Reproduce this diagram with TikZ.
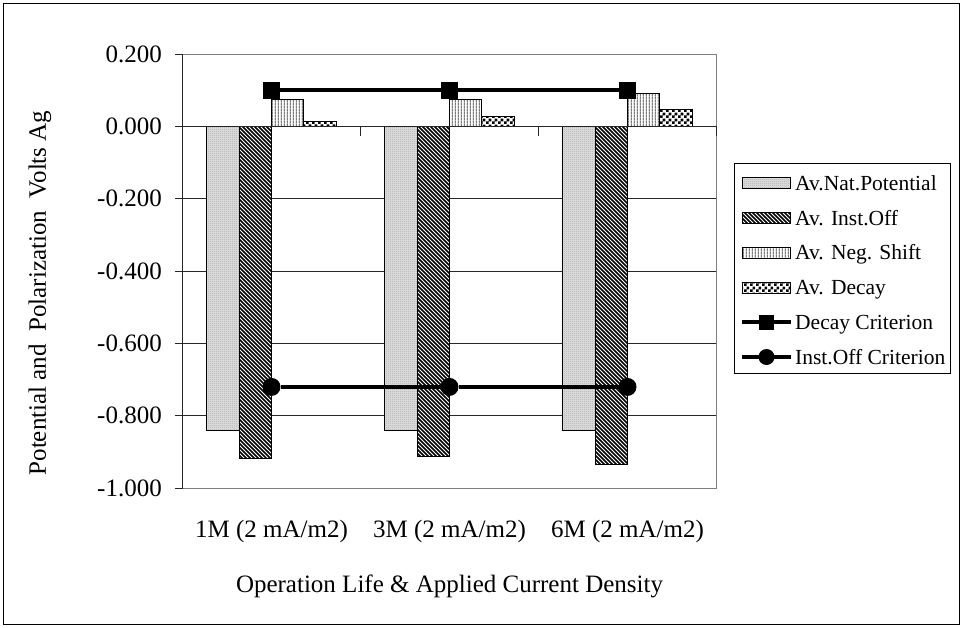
\documentclass[tikz,border=0pt]{standalone}
\usepackage{fontspec}
\setmainfont{Liberation Serif}
\usetikzlibrary{patterns}

\pgfdeclarepatternformonly{finechk}{\pgfqpoint{0pt}{0pt}}{\pgfqpoint{2pt}{2pt}}{\pgfqpoint{2pt}{2pt}}{%
  \pgfpathrectangle{\pgfqpoint{0pt}{0pt}}{\pgfqpoint{1pt}{1pt}}%
  \pgfpathrectangle{\pgfqpoint{1pt}{1pt}}{\pgfqpoint{1pt}{1pt}}%
  \pgfusepath{fill}}
\pgfdeclarepatternformonly{diagstripe}{\pgfqpoint{-1pt}{-1pt}}{\pgfqpoint{5pt}{5pt}}{\pgfqpoint{4pt}{4pt}}{%
  \pgfsetlinewidth{1.6pt}%
  \pgfpathmoveto{\pgfqpoint{-0.1pt}{4.1pt}}\pgfpathlineto{\pgfqpoint{4.1pt}{-0.1pt}}%
  \pgfusepath{stroke}}
\pgfdeclarepatternformonly{vstripe}{\pgfqpoint{0pt}{0pt}}{\pgfqpoint{3.2pt}{3.2pt}}{\pgfqpoint{3.2pt}{3.2pt}}{%
  \pgfpathrectangle{\pgfqpoint{1.2pt}{0pt}}{\pgfqpoint{0.8pt}{3.2pt}}%
  \pgfusepath{fill}}
\pgfdeclarepatternformonly{bigchk}{\pgfqpoint{0pt}{0pt}}{\pgfqpoint{6pt}{6pt}}{\pgfqpoint{6pt}{6pt}}{%
  \pgfpathrectangle{\pgfqpoint{0pt}{0pt}}{\pgfqpoint{3pt}{3pt}}%
  \pgfpathrectangle{\pgfqpoint{3pt}{3pt}}{\pgfqpoint{3pt}{3pt}}%
  \pgfusepath{fill}}

\begin{document}
\begin{tikzpicture}[x=1pt,y=-1pt,
  natbar/.style={draw=black, line width=1pt, preaction={fill=gray!25}, pattern=finechk, pattern color=gray!65},
  instbar/.style={draw=black, line width=1pt, preaction={fill=white}, pattern=diagstripe, pattern color=black},
  negbar/.style={draw=black, line width=1pt, preaction={fill=white}, pattern=vstripe, pattern color=black!80},
  decaybar/.style={draw=black, line width=1pt, preaction={fill=white}, pattern=bigchk, pattern color=black},
  gridline/.style={draw=black!85, line width=0.9pt},
  plotborder/.style={draw=gray, line width=1.2pt},
  axisline/.style={draw=black!85, line width=1.3pt},
  critline/.style={draw=black, line width=4pt},
  sqmark/.style={draw=none, fill=black, minimum size=17.5pt, inner sep=0pt, outer sep=0pt},
  cimark/.style={circle, draw=none, fill=black, minimum size=18pt, inner sep=0pt, outer sep=0pt},
  sqmarkl/.style={sqmark, minimum size=15.5pt},
  cimarkl/.style={cimark, minimum size=16pt},
  axtext/.style={font=\fontsize{25}{29}\selectfont, inner sep=0pt},
  legtext/.style={font=\fontsize{21.5}{25}\selectfont, inner sep=0pt, anchor=base west}
]
\useasboundingbox (0,0) rectangle (963,628);
\draw[black, line width=1pt] (3.5,3.5) rectangle (959.5,624.5);

\begin{scope}[shift={(0,126.5)}, y=361.7pt]
  % gridlines and plot border
  \foreach \v in {-0.2,-0.4,-0.6,-0.8} \draw[gridline] (182.5,\v) -- (716.5,\v);
  \draw[plotborder] (182.5,-1) rectangle (716.5,0.2);
  % bars
  \foreach \i/\a/\b/\c/\d in {0/-0.840/-0.918/0.076/0.015, 1/-0.840/-0.913/0.074/0.028, 2/-0.840/-0.934/0.092/0.048} {
    \pgfmathsetmacro\L{206.77+178*\i}
    \draw[natbar] (\L,0) rectangle ++(32.36,\a);
    \draw[instbar] ({\L+32.36},0) rectangle ++(32.36,\b);
    \draw[negbar] ({\L+64.72},0) rectangle ++(32.36,\c);
    \draw[decaybar] ({\L+97.08},0) rectangle ++(32.36,\d);
  }
  % axes
  \draw[axisline] (182.5,0.2) -- (182.5,-1);
  \draw[axisline] (182.5,0) -- (716.5,0);
  \foreach \x in {360.5,538.5,716.5} \draw[black!85, line width=1pt] (\x,0) -- (\x,-0.025);
  \foreach \v/\t [count=\n] in {0.2/0.200, 0/0.000, -0.2/-0.200, -0.4/-0.400, -0.6/-0.600, -0.8/-0.800, -1/-1.000} {
    \draw[black!85, line width=1pt] (175,\v) -- (182.5,\v);
    \node[axtext, anchor=east] (yl\n) at (162,\v) {\t};
  }
  % criteria
  \node[sqmark] (d0) at (271.5,0.1) {};
  \node[sqmark] (d1) at (449.5,0.1) {};
  \node[sqmark] (d2) at (627.5,0.1) {};
  \draw[critline] (d0) -- (d1) -- (d2);
  \node[cimark] (o0) at (271.5,-0.72) {};
  \node[cimark] (o1) at (449.5,-0.72) {};
  \node[cimark] (o2) at (627.5,-0.72) {};
  \draw[critline] (o0) -- (o1) -- (o2);
\end{scope}

% category labels
\node[axtext, anchor=base] (c0) at (271.5,537.3) {1M (2 mA/m2)};
\node[axtext, anchor=base] (c1) at (449.5,537.3) {3M (2 mA/m2)};
\node[axtext, anchor=base] (c2) at (627.5,537.3) {6M (2 mA/m2)};
\node[axtext, anchor=base] (xtitle) at (449.5,592.7) {Operation Life \& Applied Current Density};
\node[axtext, rotate=90] (ytitle) at (40,293) {Potential and\ \ Polarization\ \ Volts Ag};

% legend
\draw[black, line width=1pt] (734.3,163.3) rectangle (950,373.3);
\draw[natbar] (742,178) rectangle (790,189);
\node[legtext] (t1) at (795,190.5) {Av.Nat.Potential};
\draw[instbar] (742,212.7) rectangle (790,223.7);
\node[legtext] (t2) at (795,225.2) {Av. Inst.Off};
\draw[negbar] (742,247.4) rectangle (790,258.4);
\node[legtext] (t3) at (795,259.9) {Av. Neg. Shift};
\draw[decaybar] (742,282.1) rectangle (790,293.1);
\node[legtext] (t4) at (795,294.6) {Av. Decay};
\coordinate (la5) at (742,322.3);
\coordinate (lb5) at (791,322.3);
\draw[critline] (la5) -- (lb5);
\node[sqmarkl] (m5) at (766.5,322.3) {};
\node[legtext] (t5) at (795,329.3) {Decay Criterion};
\coordinate (la6) at (742,357);
\coordinate (lb6) at (791,357);
\draw[critline] (la6) -- (lb6);
\node[cimarkl] (m6) at (766.5,357) {};
\node[legtext] (t6) at (795,364) {Inst.Off Criterion};
\end{tikzpicture}
\end{document}
